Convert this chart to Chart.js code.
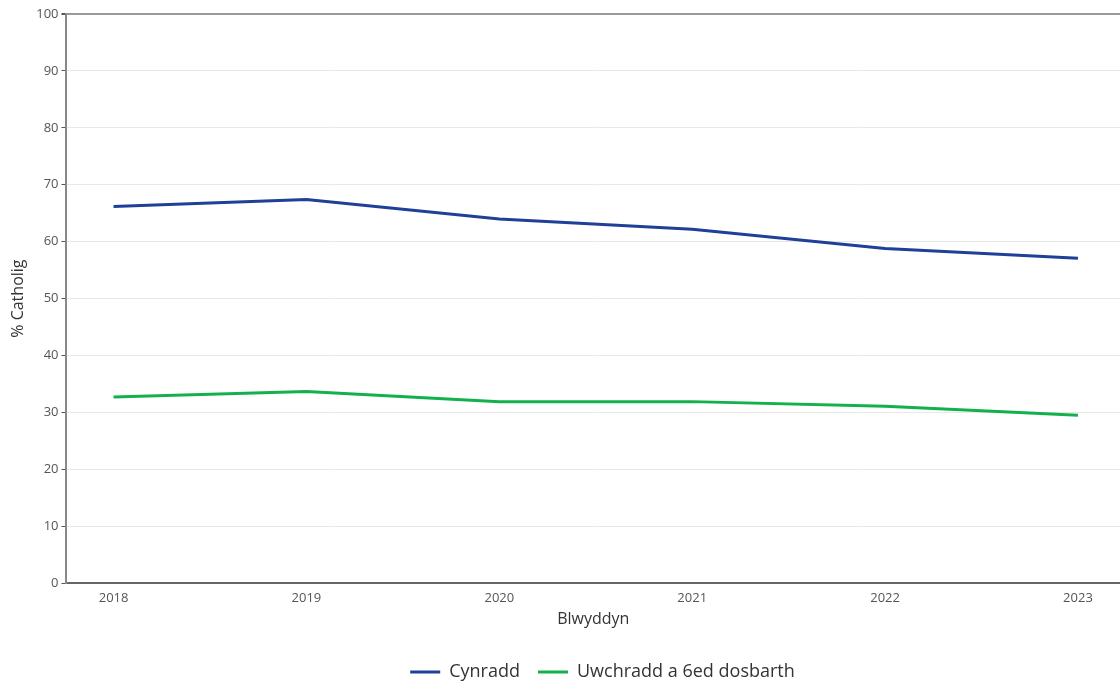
<!DOCTYPE html>
<html>
<head>
<meta charset="utf-8">
<script src="https://cdn.jsdelivr.net/npm/chart.js@4"></script>
<style>
  html, body { margin: 0; padding: 0; background: #fff; }
  #wrap { width: 1120px; height: 684px; }
</style>
</head>
<body>
<div id="wrap"><canvas id="chart"></canvas></div>
<script>
// Blynyddoedd a chanrannau
const years = [2018, 2019, 2020, 2021, 2022, 2023];
const cynradd = [66.2, 67.4, 64.0, 62.2, 58.8, 57.1];
const uwchradd = [32.7, 33.7, 31.9, 31.9, 31.1, 29.5];
const seriesNames = ['Cynradd', 'Uwchradd a 6ed dosbarth'];

const font = "'Open Sans', 'Liberation Sans', sans-serif";

function pts(vals) {
    return years.map((y, i) => ({x: y, y: vals[i]}));
}

// nudge legend so it sits under the plot area rather than the canvas centre
const legendShift = {
    id: 'legendShift',
    afterLayout(chart) {
        const lg = chart.legend;
        if (!lg) return;
        lg.left += 38;
        lg.right += 38;
    }
};

new Chart(document.getElementById('chart'), {
    type: 'line',
    data: {
        datasets: [
            {
                label: seriesNames[0],
                data: pts(cynradd),
                borderColor: '#1f3f99',
                backgroundColor: '#1f3f99',
                borderWidth: 3,
                pointRadius: 0,
                tension: 0
            },
            {
                label: seriesNames[1],
                data: pts(uwchradd),
                borderColor: '#14b04e',
                backgroundColor: '#14b04e',
                borderWidth: 3,
                pointRadius: 0,
                tension: 0
            }
        ]
    },
    plugins: [legendShift],
    options: {
        responsive: true,
        maintainAspectRatio: false,
        animation: false,
        layout: { padding: { top: 14, right: 0, bottom: -7, left: 9 } },
        plugins: {
            tooltip: { enabled: false },
            legend: {
                position: 'bottom',
                labels: {
                    font: { family: font, size: 18 },
                    color: '#333',
                    usePointStyle: true,
                    pointStyle: 'line',
                    pointStyleWidth: 30,
                    boxHeight: 10,
                    padding: 18
                }
            }
        },
        scales: {
            x: {
                type: 'linear',
                min: 2017.756,
                max: 2023.218,
                afterBuildTicks: (axis) => {
                    axis.ticks = years.map(v => ({value: v}));
                },
                ticks: {
                    font: { family: font, size: 13 },
                    color: '#555',
                    callback: (v) => String(v),
                    padding: 2
                },
                grid: { display: false, drawTicks: true, tickLength: 5, tickColor: '#555' },
                border: { color: '#666', width: 2 },
                title: {
                    display: true,
                    text: 'Blwyddyn',
                    font: { family: font, size: 16 },
                    color: '#333',
                    padding: { top: 2, bottom: 16 }
                }
            },
            y: {
                min: 0,
                max: 100,
                ticks: {
                    stepSize: 10,
                    font: { family: font, size: 13 },
                    color: '#555',
                    padding: 3
                },
                grid: {
                    color: (ctx) => ctx.tick && ctx.tick.value === 100 ? '#999' : '#e8e8e8',
                    lineWidth: (ctx) => ctx.tick && ctx.tick.value === 100 ? 2 : 1,
                    tickColor: '#555',
                    tickLength: 5
                },
                border: { color: '#888', width: 2 },
                title: {
                    display: true,
                    text: '% Catholig',
                    font: { family: font, size: 16 },
                    color: '#333',
                    padding: { top: 0, bottom: 5 }
                }
            }
        }
    }
});
</script>
</body>
</html>
